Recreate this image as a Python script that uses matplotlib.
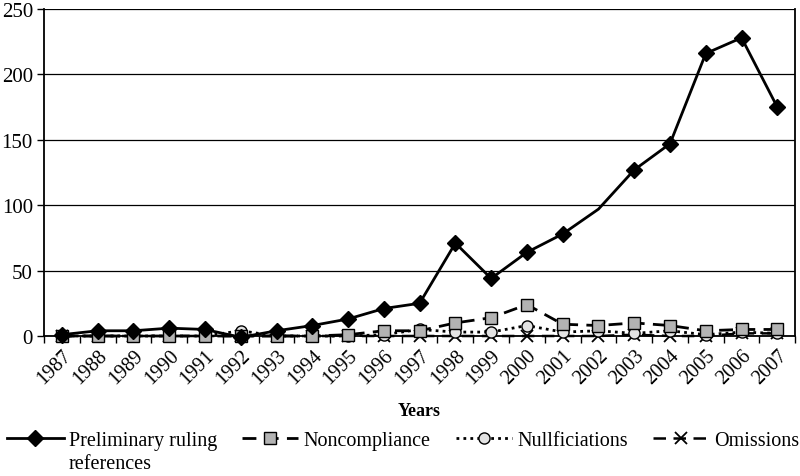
import numpy as np
import matplotlib
matplotlib.use("Agg")
from matplotlib import pyplot as plt

years = [str(y) for y in range(1987, 2008)]
preliminary = [1, 4, 4, 6, 5, -1, 4, 8, 13, 21, 25, 71, 44, 64, 78, 97, 127, 147, 216, 228, 175]
noncompliance = [0, 0, 0, 0, 0, 0, 0, 0, 1, 4, 4, 10, 14, 24, 9, 8, 10, 8, 4, 5, 5]
nullifications = [0, 0, 0, 0, 0, 4, 0, 0, 0, 1, 5, 3, 3, 8, 3, 4, 2, 4, 1, 3, 2]
omissions = [0, 0, 0, 0, 0, 0, 0, 0, 0, 0, 0, 0, 0, 0, 0, 0, 1, 0, 0, 2, 2]

plt.rcParams["font.family"] = ["Liberation Serif", "DejaVu Serif"]
plt.rcParams["font.size"] = 14

fig = plt.figure(figsize=(8, 4.77), dpi=100)
ax = fig.add_axes([0.055, 0.2935, 0.939, 0.6855])

x = np.arange(len(years))
# 2002 point of the preliminary series has no marker in the original
marks = [i for i in x if years[i] != "2002"]

ax.plot(x, omissions, color="black", lw=1.8, ls=(0, (5, 3)), marker="x",
        ms=9, mew=1.3, label="Omissions", zorder=3, clip_on=False)
ax.plot(x, nullifications, color="black", lw=2, ls=(0, (1, 1.5)), marker="o",
        ms=8, mfc="#e3e3e3", mec="black", mew=1, label="Nullficiations",
        zorder=4, clip_on=False)
ax.plot(x, noncompliance, color="black", lw=2, ls=(0, (5, 3)), marker="s",
        ms=8, mfc="#b3b3b3", mec="black", mew=1, label="Noncompliance",
        zorder=4, clip_on=False)
ax.plot(x, preliminary, color="black", lw=2, marker="D", ms=8,
        markevery=marks, label="Preliminary ruling", zorder=5, clip_on=False)

ax.set_xlim(-0.5, len(years) - 0.5)
ax.set_ylim(0, 250)
ax.set_yticks(range(0, 251, 50))
ax.yaxis.grid(True, color="black", lw=0.9)
ax.set_axisbelow(True)

ax.spines["top"].set_visible(False)
for s in ["left", "bottom", "right"]:
    ax.spines[s].set_linewidth(1.3)

ax.set_xticks(x)
ax.set_xticklabels(years, rotation=45, ha="right", va="top",
                   rotation_mode="anchor", fontsize=14.5)
ax.tick_params(axis="x", length=0, pad=7)
ax.set_xticks(np.arange(-0.5, len(years), 1), minor=True)
ax.tick_params(axis="x", which="minor", direction="out", length=5, width=1)
ax.tick_params(axis="y", direction="out", length=5, width=1, pad=3,
               labelsize=15)

ax.set_xlabel("Years", fontweight="bold", fontsize=13, labelpad=10)

handles, labels = ax.get_legend_handles_labels()
order = [3, 2, 1, 0]
leg = fig.legend([handles[i] for i in order], [labels[i] for i in order],
                 loc="upper left", bbox_to_anchor=(0.009, 0.094), ncol=4,
                 frameon=False, fontsize=14.5, handlelength=2.8,
                 handletextpad=0.25, columnspacing=1.25, borderaxespad=0,
                 borderpad=0)

# second line of the first legend label, placed under the first line
fig.canvas.draw()
bb = leg.get_texts()[0].get_window_extent()
fig.text(bb.x0 / fig.bbox.width, (bb.y0 - 23) / fig.bbox.height,
         "references", fontsize=14.5, ha="left", va="bottom")

fig.savefig("out.png", dpi=100)
